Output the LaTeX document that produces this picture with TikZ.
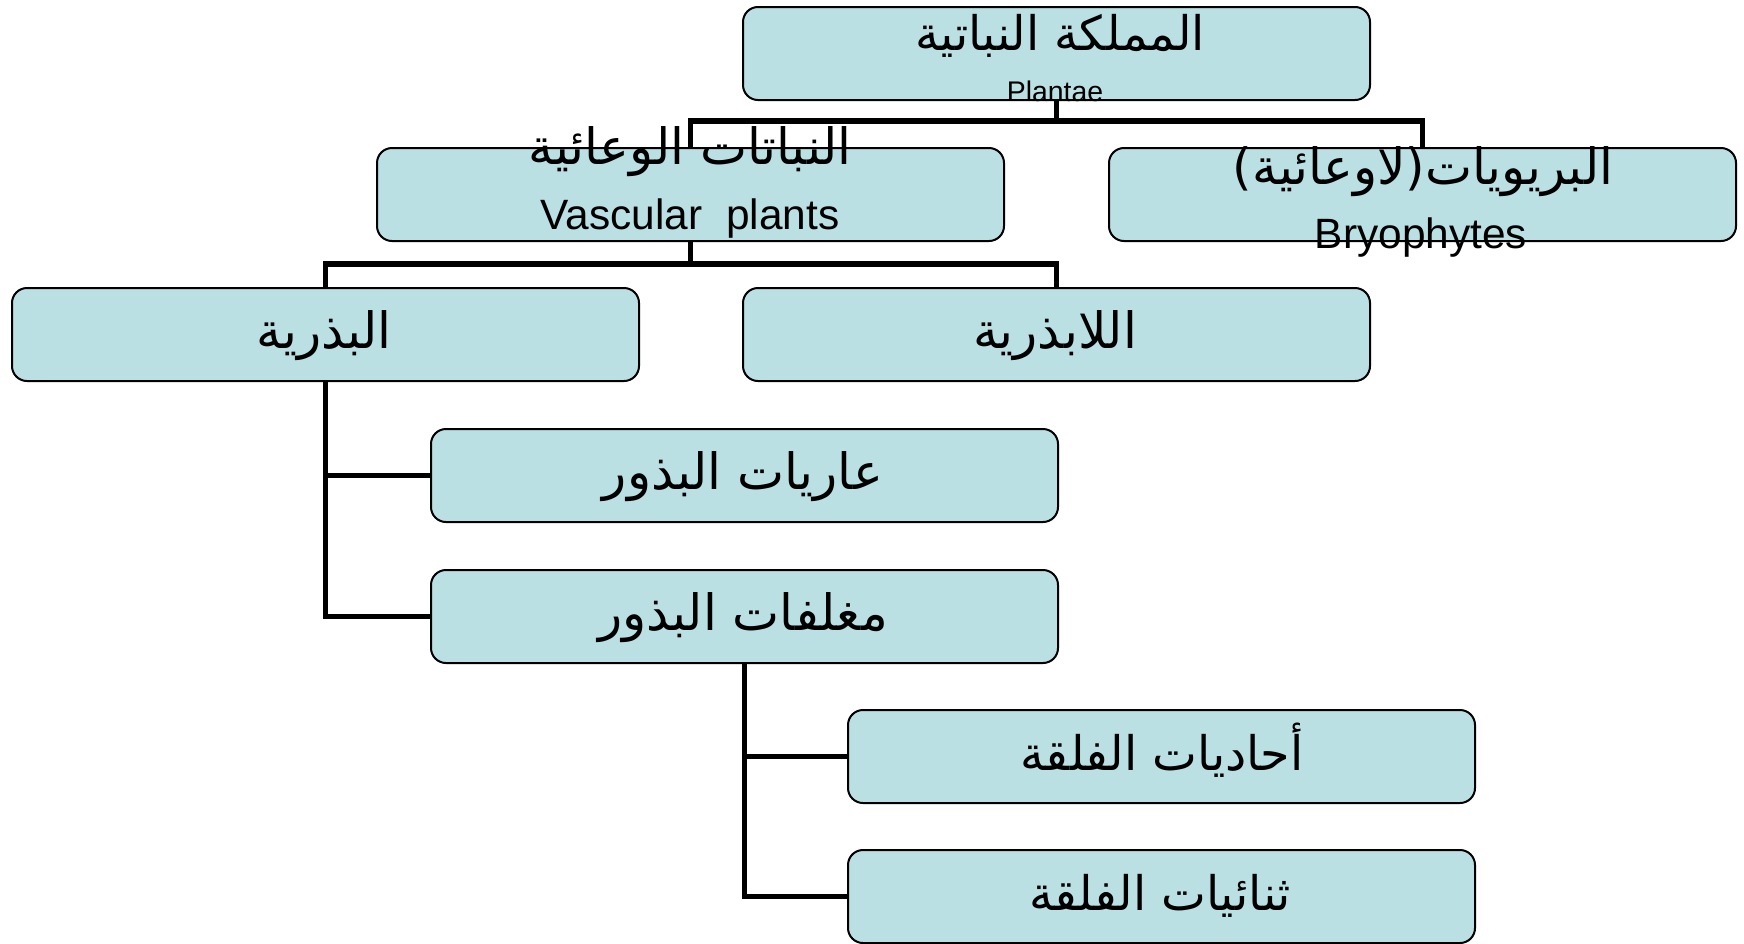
\documentclass[tikz,border=0pt]{standalone}
\usepackage{fontspec}
\setmainfont{Liberation Sans}
\newfontfamily\arabicfont[Script=Arabic]{DejaVu Sans}
\TeXXeTstate=1
\definecolor{boxfill}{RGB}{187,224,227}
\begin{document}
\begin{tikzpicture}[x=0.5pt,y=-0.5pt,
  box/.style={draw=black, line width=1pt, fill=boxfill, rounded corners=7.5pt,
    minimum width=313.5pt, minimum height=46.5pt, inner sep=0pt, anchor=north west},
  conn/.style={line width=2.8pt},
  artext/.style={font=\arabicfont\fontsize{25pt}{29pt}\selectfont, inner sep=0pt, anchor=base},
  artextsm/.style={font=\arabicfont\fontsize{23.8pt}{28pt}\selectfont, inner sep=0pt, anchor=base},
  entext/.style={font=\fontsize{21.2pt}{25pt}\selectfont, inner sep=0pt, anchor=base},
  smalltext/.style={font=\fontsize{14.2pt}{16pt}\selectfont, inner sep=0pt, anchor=base}]
\useasboundingbox (0,0) rectangle (1744,943);
\coordinate (j1) at (1055,121);
\coordinate (j2) at (690,264);
% boxes
\node[box] (top) at (742,6) {};
\node[box] (vasc) at (376,147) {};
\node[box] (bryo) at (1108,147) {};
\node[box] (seed) at (11,287) {};
\node[box] (seedless) at (742,287) {};
\node[box] (gymno) at (430,428) {};
\node[box] (angio) at (430,569) {};
\node[box] (mono) at (847,709) {};
\node[box] (di) at (847,849) {};
% connectors
\draw[conn] (top.south) -- (top.south |- j1);
\draw[conn] (vasc.north) -- (vasc.north |- j1) -- (bryo.north |- j1) -- (bryo.north);
\draw[conn] (vasc.south) -- (vasc.south |- j2);
\draw[conn] (seed.north) -- (seed.north |- j2) -- (seedless.north |- j2) -- (seedless.north);
\draw[conn] (seed.south) |- (angio.west);
\draw[conn] (seed.south |- gymno.west) -- (gymno.west);
\draw[conn] (angio.south) |- (di.west);
\draw[conn] (angio.south |- mono.west) -- (mono.west);
% texts
\node[artextsm] (ttop) at (1060,50) {\beginR المملكة النباتية\endR};
\node[smalltext] (tplantae) at (1055,101) {Plantae};
\node[artext] (tvasc) at (690,164) {\beginR النباتات الوعائية\endR};
\node[entext] (tvasc2) at (690,229) {Vascular\ \ plants};
\node[artext] (tbryo) at (1423,184) {\beginR البريويات(لاوعائية)\endR};
\node[entext] (tbryo2) at (1421,248) {Bryophytes};
\node[artext] (tseed) at (324,348) {\beginR البذرية\endR};
\node[artext] (tseedless) at (1055,348) {\beginR اللابذرية\endR};
\node[artext] (tgymno) at (743,489) {\beginR عاريات البذور\endR};
\node[artext] (tangio) at (743,630) {\beginR مغلفات البذور\endR};
\node[artextsm] (tmono) at (1162,770) {\beginR أحاديات الفلقة\endR};
\node[artextsm] (tdi) at (1160,910) {\beginR ثنائيات الفلقة\endR};
\end{tikzpicture}
\end{document}
